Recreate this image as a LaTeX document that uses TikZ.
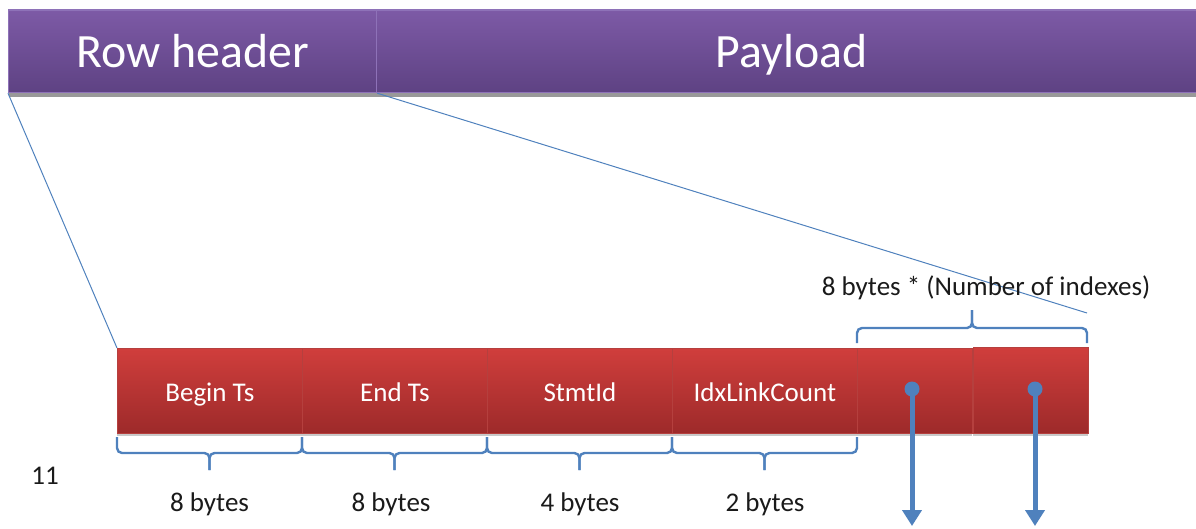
\documentclass[tikz,border=0pt]{standalone}
\usepackage{fontspec}
\setmainfont{Carlito}
\usetikzlibrary{shadows,arrows.meta,calc}
\definecolor{purpTop}{HTML}{7D5AA6}
\definecolor{purpBot}{HTML}{5E4283}
\definecolor{purpEdge}{HTML}{8E72B8}
\definecolor{redTop}{HTML}{D03E3C}
\definecolor{redBot}{HTML}{9D2A2A}
\definecolor{redEdge}{HTML}{B5403E}
\definecolor{lnBlue}{HTML}{4F81BD}
\definecolor{txt}{HTML}{1A1A1A}
\tikzset{
  bigbar/.style={draw=purpEdge, line width=1.2pt, top color=purpTop, bottom color=purpBot,
    inner sep=0pt, anchor=north west, text=white, font=\fontsize{47.8}{50}\selectfont,
    text height=33pt, text depth=0pt,
    drop shadow={shadow xshift=0pt, shadow yshift=-4pt, opacity=0.5, fill=black!80}},
  fieldbox/.style={draw=redEdge, line width=0.8pt, top color=redTop, bottom color=redBot,
    inner sep=0pt, anchor=north west, text=white, font=\fontsize{27}{29}\selectfont,
    text height=21.5pt, text depth=0pt,
    drop shadow={shadow xshift=0pt, shadow yshift=-3pt, opacity=0.3, fill=black!70}},
  brc/.style={draw=lnBlue, line width=2.4pt, rounded corners=5pt},
  zoomline/.style={draw=lnBlue, line width=1pt},
  lbl/.style={text=txt, font=\fontsize{27}{29}\selectfont, anchor=base, inner sep=0pt},
  dot/.style={circle, fill=lnBlue, inner sep=0pt, minimum size=15pt},
  ptr/.style={draw=lnBlue, line width=5pt, -{Triangle[length=16pt,width=19pt]}}
}
\begin{document}
\begin{tikzpicture}[x=1pt,y=-1pt]
\useasboundingbox (0,0) rectangle (1196,528);
% top bars
\node[bigbar, minimum width=830pt, minimum height=82.7pt] (pay) at (376,9.3) {Payload};
\node[bigbar, minimum width=368pt, minimum height=82.7pt] (rh) at (8,9.3) {Row header};
% field boxes
\node[fieldbox, minimum width=185pt, minimum height=85pt] (b1) at (117,348) {Begin Ts};
\node[fieldbox, minimum width=185pt, minimum height=85pt] (b2) at (302,348) {End Ts};
\node[fieldbox, minimum width=185pt, minimum height=85pt] (b3) at (487,348) {StmtId};
\node[fieldbox, minimum width=185pt, minimum height=85pt] (b4) at (672,348) {IdxLinkCount};
\node[fieldbox, minimum width=115pt, minimum height=85pt] (b5) at (857,348) {};
\node[fieldbox, minimum width=115pt, minimum height=86pt] (b6) at (973,347) {};
% zoom lines
\coordinate (zr) at (1087,313);
\draw[zoomline] (rh.south west) -- (b1.north west);
\draw[zoomline] (rh.south east) -- (zr);
% bottom braces
\foreach \xa/\xb in {117/302, 302/487, 487/672, 672/857}{
  \pgfmathsetmacro{\xm}{(\xa+\xb)/2}
  \draw[brc] (\xa,437) |- (\xm,453) -- (\xm,470);
  \draw[brc] (\xb,437) |- (\xm,453) -- (\xm,470);
}
% top brace
\draw[brc] (857,343) |- (972,328) -- (972,310);
\draw[brc] (1087,343) |- (972,328) -- (972,310);
% labels
\node[lbl] (l1) at (209.5,511) {8 bytes};
\node[lbl] (l2) at (391,511) {8 bytes};
\node[lbl] (l3) at (580,511) {4 bytes};
\node[lbl] (l4) at (765,511) {2 bytes};
\node[lbl] (l5) at (986,295) {8 bytes * (Number of indexes)};
\node[lbl] (pg) at (45,484) {11};
% pointers
\node[dot] (d1) at (912,389) {};
\node[dot] (d2) at (1035,389) {};
\coordinate (e1) at (912,526);
\coordinate (e2) at (1035,526);
\draw[ptr] (d1.center) -- (e1);
\draw[ptr] (d2.center) -- (e2);
\end{tikzpicture}
\end{document}
